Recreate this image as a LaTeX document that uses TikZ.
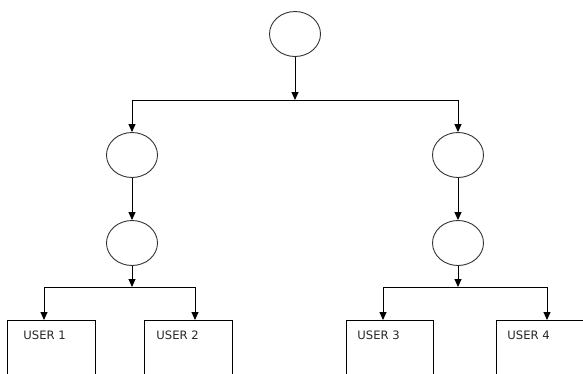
\documentclass[tikz,border=0pt]{standalone}
\usepackage{fontspec}
\setmainfont{DejaVu Sans}
\usetikzlibrary{arrows.meta,shapes.geometric}
\begin{document}
\begin{tikzpicture}[x=1pt,y=-1pt,
  line width=0.9pt,
  arr/.style={-{Triangle[width=7pt,length=8pt]}},
  blob/.style={ellipse,draw=black!80,line width=0.9pt,minimum width=51pt,minimum height=45pt,inner sep=0pt},
  userbox/.style={rectangle,draw=black,anchor=north west,minimum height=100pt,inner sep=0pt},
  lbl/.style={anchor=base west,inner sep=0pt,font=\fontsize{11.6}{14}\selectfont,text=black!85}]
  \useasboundingbox (0,0) rectangle (583,373);
  \clip (0,0) rectangle (583,373);

  % ellipses of the tree
  \node[blob] (root) at (295,34) {};
  \node[blob] (l1) at (132,155) {};
  \node[blob] (l2) at (132,243) {};
  \node[blob] (r1) at (458,155) {};
  \node[blob] (r2) at (458,243) {};

  % user boxes, open towards the bottom edge
  \node[userbox,minimum width=88pt] (u1) at (7,320) {};
  \node[userbox,minimum width=88pt] (u2) at (144,320) {};
  \node[userbox,minimum width=87pt] (u3) at (346,320) {};
  \node[userbox,minimum width=120pt] (u4) at (496,320) {};

  \node[lbl] (t1) at (23,339) {USER 1};
  \node[lbl] (t2) at (156,339) {USER 2};
  \node[lbl] (t3) at (357,339) {USER 3};
  \node[lbl] (t4) at (507,339) {USER 4};

  % junction points
  \coordinate (topbar) at (295,100);
  \coordinate (lbar) at (132,287);
  \coordinate (rbar) at (458,287);
  \coordinate (b1) at (44,287);
  \coordinate (b2) at (195,287);
  \coordinate (b3) at (383,287);
  \coordinate (b4) at (547,287);

  % top level
  \draw[arr] (root) -- (topbar);
  \draw (l1 |- topbar) -- (r1 |- topbar);
  \draw[arr] (l1 |- topbar) -- (l1);
  \draw[arr] (r1 |- topbar) -- (r1);

  % left branch
  \draw[arr] (l1) -- (l2);
  \draw[arr] (l2) -- (lbar);
  \draw (b1) -- (b2);
  \draw[arr] (b1) -- (b1 |- u1.north);
  \draw[arr] (b2) -- (b2 |- u2.north);

  % right branch
  \draw[arr] (r1) -- (r2);
  \draw[arr] (r2) -- (rbar);
  \draw (b3) -- (b4);
  \draw[arr] (b3) -- (b3 |- u3.north);
  \draw[arr] (b4) -- (b4 |- u4.north);
\end{tikzpicture}
\end{document}
